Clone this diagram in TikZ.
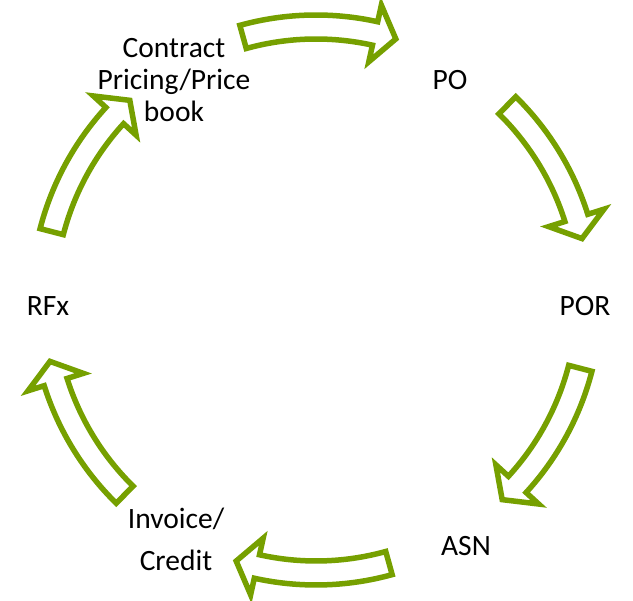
\documentclass[tikz,border=0pt]{standalone}
\usepackage{fontspec}
\setmainfont{Carlito}
\definecolor{cyclegreen}{RGB}{118,160,0}
\tikzset{
  cyclearrow/.style={draw=cyclegreen, fill=white, line width=5.5pt, line join=miter},
  steplabel/.style={font=\fontsize{29.5}{32}\selectfont, align=center, inner sep=0pt}
}
\begin{document}
\begin{tikzpicture}[x=1pt, y=1pt]
  \useasboundingbox (0,0) rectangle (633,601);
  \coordinate (C) at (316,301);

  % block arrows, clockwise round the cycle
  \foreach \midang in {90,30,-30,-90,-150,150} {
    \pgfmathsetmacro{\angA}{\midang+15.5}
    \pgfmathsetmacro{\angH}{\midang-12.5}
    \pgfmathsetmacro{\angB}{\midang-17}
    \draw[cyclearrow] ([shift={(\angA:285)}]C) arc[start angle=\angA, end angle=\angH, radius=285]
      -- ([shift={(\angH:302)}]C) -- ([shift={(\angB:273)}]C) -- ([shift={(\angH:244)}]C)
      -- ([shift={(\angH:261)}]C) arc[start angle=\angH, end angle=\angA, radius=261] -- cycle;
  }

  % steps
  \node[steplabel] (contract) at (174,521) {Contract\\Pricing/Price\\book};
  \node[steplabel] (po) at (450,521) {PO};
  \node[steplabel] (por) at (585,295) {POR};
  \node[steplabel] (asn) at (466,55) {ASN};
  \node[steplabel] (invoice) at (176,62) {Invoice/\\[10pt]Credit};
  \node[steplabel] (rfx) at (48,295) {RFx};
\end{tikzpicture}
\end{document}
